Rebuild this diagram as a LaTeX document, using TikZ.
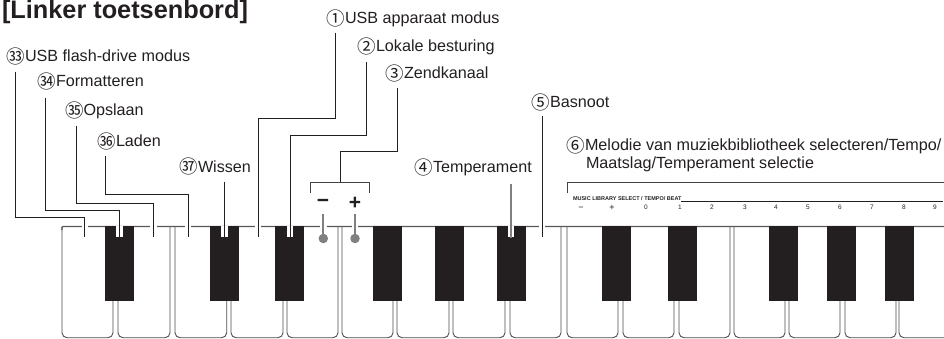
\documentclass[tikz,border=0pt]{standalone}
\usepackage{fontspec}
\setmainfont{Liberation Sans}
\newfontfamily\circfont{Noto Sans CJK JP}
\newcommand{\cn}[1]{\raisebox{-1.2pt}{\circfont\fontsize{18.5}{16}\selectfont #1}}
\definecolor{ink}{HTML}{231F20}
\definecolor{leadgray}{HTML}{808080}
\tikzset{
  lbl/.style={anchor=base west,inner sep=0pt,outer sep=0pt,text=ink,font=\fontsize{16.15}{16}\selectfont},
  ttl/.style={anchor=base west,inner sep=0pt,outer sep=0pt,text=ink,font=\fontsize{25.3}{26}\selectfont\bfseries},
  tiny/.style={anchor=base,inner sep=0pt,outer sep=0pt,text=ink,font=\fontsize{5.5}{6}\selectfont\bfseries},
  tinynum/.style={anchor=base,inner sep=0pt,outer sep=0pt,text=ink,font=\fontsize{6.5}{7}\selectfont},
  tinysign/.style={anchor=base,inner sep=0pt,outer sep=0pt,text=ink,font=\fontsize{9}{9}\selectfont},
  keyline/.style={draw=ink!80,line width=0.9pt,fill=white,rounded corners=5pt},
  topline/.style={draw=ink!75,line width=1.1pt},
  blackkey/.style={fill=ink,draw=none},
  notch/.style={fill=white,draw=none},
  leader/.style={draw=ink,line width=0.85pt},
  leadergray/.style={draw=leadgray,line width=1.7pt},
  bracket/.style={draw=ink!85,line width=0.9pt},
  dotmark/.style={circle,fill=leadgray,draw=none,minimum size=9.5pt,inner sep=0pt,outer sep=0pt},
  sign/.style={anchor=center,inner sep=0pt,outer sep=0pt,text=ink,font=\fontsize{21}{21}\selectfont\bfseries},
}
\begin{document}
\begin{tikzpicture}[x=1pt,y=-1pt]
\useasboundingbox (0,0) rectangle (944,339);
% white keys
\foreach \a/\b in {62/113,118/170,175/226.7,231/283,287/338,342/393,397/449,453/505,510/561,567/618,623/674,679/730,734/785,789/840,845/896}{
  \draw[keyline] (\a,226.5) -- (\a,337.7) -- (\b,337.7) -- (\b,226.5);
}
\draw[keyline] (899,226.5) -- (899,337.7) -- (950,337.7);
\draw[topline] (62,230) -- (62,227.5) -- (63,226.5) -- (944,226.5);
% black keys
\foreach \a/\b in {105/134,210/239,275/304,373/402,435/464,497/526,602/631,668/697,769/798,827/856,885/914}{
  \fill[blackkey] (\a,226) rectangle (\b,300.7);
}
% notches and gaps
\foreach \x in {119.3,224.5,290,510.7}{
  \fill[notch] (\x-3.2,225.6) rectangle (\x+3.2,237.4);
}
\foreach \x in {84.7,153.5,188,258,542,323.3,355}{
  \fill[notch] (\x-3.2,224) rectangle (\x+3.2,229);
}
% title and labels
\node[ttl] (title) at (2,18.6) {[Linker toetsenbord]};
\node[lbl] (l33) at (6.5,62) {\cn{㉝}USB flash-drive modus};
\node[lbl] (l34) at (37.5,87) {\cn{㉞}Formatteren};
\node[lbl] (l35) at (65,116) {\cn{㉟}Opslaan};
\node[lbl] (l36) at (97.5,147) {\cn{㊱}Laden};
\node[lbl] (l37) at (179.5,172) {\cn{㊲}Wissen};
\node[lbl] (l1) at (326.5,24) {\cn{①}USB apparaat modus};
\node[lbl] (l2) at (357.5,52) {\cn{②}Lokale besturing};
\node[lbl] (l3) at (385.5,79) {\cn{③}Zendkanaal};
\node[lbl] (l4) at (414.5,173) {\cn{④}Temperament};
\node[lbl] (l5) at (531.5,108) {\cn{⑤}Basnoot};
\node[lbl] (l6) at (566.5,151) {\cn{⑥}Melodie van muziekbibliotheek selecteren/Tempo/};
\node[lbl] (l6b) at (586,168) {Maatslag/Temperament selectie};
% leader ends
\coordinate (a33) at (15,72);    \coordinate (e33) at (84.7,237);
\coordinate (a34) at (45,98);    \coordinate (e34) at (119.3,237);
\coordinate (a35) at (76,126);   \coordinate (e35) at (153.5,237);
\coordinate (a36) at (105.5,156);\coordinate (e36) at (188,237);
\coordinate (a37) at (224.5,182);\coordinate (e37) at (224.5,237);
\coordinate (a1) at (335.7,33);  \coordinate (e1) at (258,237);
\coordinate (a2) at (366,62);    \coordinate (e2) at (290,237);
\coordinate (a3) at (397.5,88);  \coordinate (e3) at (340,182);
\coordinate (a5) at (542,116);   \coordinate (e5) at (542,237);
\coordinate (a4) at (510.7,184); \coordinate (e4) at (510.7,238);
\draw[leader] (a33) |- (84.7,217) -- (e33);
\draw[leader] (a34) |- (119.3,210.5) -- (e34);
\draw[leader] (a35) |- (153.5,203) -- (e35);
\draw[leader] (a36) |- (188,194) -- (e36);
\draw[leader] (a37) -- (e37);
\draw[leader] (a1) |- (258,118) -- (e1);
\draw[leader] (a2) |- (290,135.5) -- (e2);
\draw[leader] (a3) |- (340,151.5) -- (e3);
\draw[leader] (a5) -- (e5);
\draw[leadergray] (a4) -- (e4);
% brackets
\draw[bracket] (310,193) |- (369,182) -- (369,193);
\draw[bracket] (567,193) |- (944,182);
% minus/plus with dots
\node[sign] (minus) at (323,203.5) {−};
\node[sign] (plus) at (355,203.5) {+};
\node[dotmark] (d1) at (323.3,238.5) {};
\node[dotmark] (d2) at (355,238.5) {};
\draw[leadergray] (323.3,214) -- (d1);
\draw[leadergray] (355,214) -- (d2);
% small panel print
\node[tiny,anchor=base west] (mlb) at (573,200.5) {MUSIC LIBRARY SELECT / TEMPO/ BEAT};
\coordinate (mle) at (943,201.5);
\draw[draw=ink,line width=0.8pt] (681,201.5) -- (mle);
\node[tinysign] (na) at (581,210) {−};
\node[tinysign] (nb) at (612,210) {+};
\foreach \x/\t/\n in {646/0/c,680/1/d,712/2/e,745/3/f,776/4/g,808/5/h,840/6/i,872/7/j,904/8/k,935/9/l}{
  \node[tinynum] (n\n) at (\x,209.5) {\t};
}
\end{tikzpicture}
\end{document}
